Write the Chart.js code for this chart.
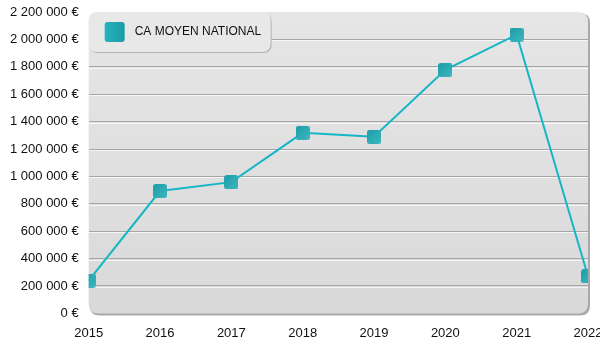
<!DOCTYPE html>
<html>
<head>
<meta charset="utf-8">
<script src="https://cdn.jsdelivr.net/npm/chart.js@4/dist/chart.umd.min.js"></script>
<style>
  html, body { margin: 0; padding: 0; background: #fff; }
  #wrap { width: 600px; height: 350px; position: relative; }
</style>
</head>
<body>
<div id="wrap"><canvas id="chart"></canvas></div>
<script>
var years = ['2015', '2016', '2017', '2018', '2019', '2020', '2021', '2022'];
var caMoyen = [240000, 893000, 958000, 1318000, 1289000, 1778000, 2035000, 271000];
var seriesLabel = 'CA MOYEN NATIONAL';
var yMax = 2200000;
var yStep = 200000;

var teal = '#16b6c6';
var font = '"Liberation Sans", Arial, sans-serif';

function formatEuro(v){
  return String(v).replace(/\B(?=(\d{3})+(?!\d))/g, ' ') + ' €';
}

function roundRect(ctx, x, y, w, h, r){
  ctx.beginPath();
  ctx.moveTo(x + r, y);
  ctx.lineTo(x + w - r, y);
  ctx.quadraticCurveTo(x + w, y, x + w, y + r);
  ctx.lineTo(x + w, y + h - r);
  ctx.quadraticCurveTo(x + w, y + h, x + w - r, y + h);
  ctx.lineTo(x + r, y + h);
  ctx.quadraticCurveTo(x, y + h, x, y + h - r);
  ctx.lineTo(x, y + r);
  ctx.quadraticCurveTo(x, y, x + r, y);
  ctx.closePath();
}

// marker: small rounded square with a teal gradient
function makeMarker(size){
  var c = document.createElement('canvas');
  c.width = size; c.height = size;
  var g = c.getContext('2d');
  var grad = g.createLinearGradient(0, 0, size, size);
  grad.addColorStop(0, '#1c9ea8');
  grad.addColorStop(1, '#3fb7bf');
  g.fillStyle = grad;
  roundRect(g, 0, 0, size, size, 2.5);
  g.fill();
  return c;
}
var marker = makeMarker(14);

var plotBackground = {
  id: 'plotBackground',
  beforeDraw: function(chart){
    var ctx = chart.ctx, a = chart.chartArea;
    ctx.save();
    ctx.fillStyle = '#a9a9a9';
    roundRect(ctx, a.left + 1, a.top + 1, a.right - a.left + 1, a.bottom - a.top + 1, 10);
    ctx.fill();
    var grad = ctx.createLinearGradient(0, a.top, 0, a.bottom);
    grad.addColorStop(0, '#e6e6e6');
    grad.addColorStop(1, '#d9d9d9');
    ctx.fillStyle = grad;
    roundRect(ctx, a.left, a.top, a.right - a.left, a.bottom - a.top, 10);
    ctx.fill();
    // light highlight under each grid line
    var y = chart.scales.y;
    ctx.fillStyle = 'rgba(255,255,255,0.7)';
    y.ticks.forEach(function(t){
      if (t.value === 0 || t.value === yMax) return;
      var py = Math.round(y.getPixelForValue(t.value));
      ctx.fillRect(a.left, py + 1, a.right - a.left, 1);
    });
    ctx.restore();
  },
  afterDraw: function(chart){
    // legend box over top-left of plot
    var ctx = chart.ctx, a = chart.chartArea;
    var x = a.left, y = a.top, w = 182, h = 40;
    ctx.save();
    ctx.fillStyle = '#b4b4b4';
    roundRect(ctx, x + 1, y + 1, w, h, 9);
    ctx.fill();
    ctx.fillStyle = '#e8e8e8';
    roundRect(ctx, x, y, w, h, 9);
    ctx.fill();
    var grad = ctx.createLinearGradient(x + 16, 0, x + 36, 0);
    grad.addColorStop(0, '#25b3bb');
    grad.addColorStop(1, '#1a9ba5');
    ctx.fillStyle = grad;
    roundRect(ctx, x + 16, y + 10, 20, 20, 3);
    ctx.fill();
    ctx.fillStyle = '#111';
    ctx.font = '12px ' + font;
    ctx.textBaseline = 'middle';
    ctx.fillText(seriesLabel, x + 46, y + 20);
    ctx.restore();
  }
};

var ctx = document.getElementById('chart');
var myChart = new Chart(ctx, {
  type: 'line',
  data: {
    labels: years,
    datasets: [{
      label: seriesLabel,
      data: caMoyen,
      borderColor: teal,
      borderWidth: 2,
      fill: false,
      tension: 0,
      pointStyle: marker,
      pointRadius: 7,
      pointHoverRadius: 7,
      clip: 0
    }]
  },
  options: {
    responsive: true,
    maintainAspectRatio: false,
    animation: false,
    events: [],
    layout: { padding: { top: 12, right: 12, left: 0, bottom: -3 } },
    plugins: {
      legend: { display: false },
      tooltip: { enabled: false }
    },
    scales: {
      x: {
        offset: false,
        grid: { display: false, drawTicks: false },
        border: { display: false },
        afterFit: function(s){ s.paddingLeft = 0; s.paddingRight = 0; },
        ticks: {
          color: '#111',
          padding: 12,
          maxRotation: 0,
          autoSkip: false,
          font: { family: font, size: 13 }
        }
      },
      y: {
        min: 0,
        max: yMax,
        afterFit: function(s){ s.paddingTop = 0; s.paddingBottom = 0; },
        grid: {
          drawTicks: false,
          lineWidth: 1,
          color: function(c){
            var v = c.tick.value;
            return (v === 0 || v === yMax) ? 'rgba(0,0,0,0)' : '#a6a6a6';
          }
        },
        border: { display: false },
        ticks: {
          stepSize: yStep,
          color: '#111',
          padding: 10,
          font: { family: font, size: 13 },
          callback: function(v){ return formatEuro(v); }
        }
      }
    }
  },
  plugins: [plotBackground]
});
</script>
</body>
</html>
